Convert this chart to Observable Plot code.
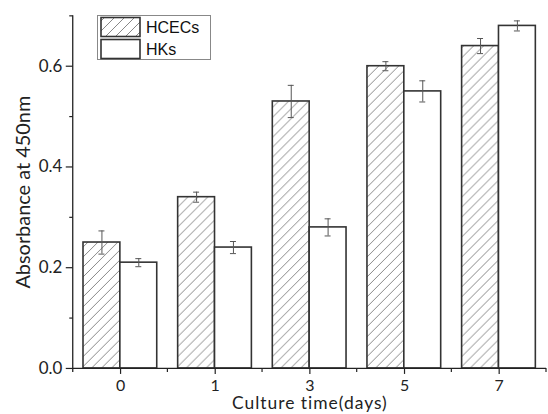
<!DOCTYPE html>
<html>
<head>
<meta charset="utf-8">
<script src="https://cdn.jsdelivr.net/npm/d3@7"></script>
<script src="https://cdn.jsdelivr.net/npm/@observablehq/plot@0.6"></script>
<style>
  html, body { margin: 0; padding: 0; background: white; overflow: hidden; }
  #wrap { position: relative; width: 548px; height: 414px; overflow: hidden; }
  #legend { position: absolute; left: 97px; top: 15px; }
</style>
</head>
<body>
<div id="wrap"><div id="chart"></div><div id="legend"></div></div>
<script>
const days = ["0", "1", "3", "5", "7"];
const seriesNames = ["HCECs", "HKs"];
const hcec = [0.25, 0.34, 0.53, 0.60, 0.64];
const hcecErr = [0.023, 0.010, 0.032, 0.009, 0.015];
const hks = [0.21, 0.24, 0.28, 0.55, 0.68];
const hksErr = [0.008, 0.012, 0.017, 0.021, 0.010];
const yMajor = [0, 0.2, 0.4, 0.6];
const yMinor = [0.1, 0.3, 0.5, 0.7];

const data = days.flatMap((d, i) => [
  {day: d, series: seriesNames[0], v: hcec[i], e: hcecErr[i]},
  {day: d, series: seriesNames[1], v: hks[i], e: hksErr[i]}
]);
const hatched = data.filter(d => d.series === seriesNames[0]);
const plain = data.filter(d => d.series === seriesNames[1]);

const axisColor = "#222";
const errColor = "#555";

const chart = Plot.plot({
  width: 550, height: 414,
  marginLeft: 71.7, marginRight: 0, marginTop: 15.4, marginBottom: 44.7,
  style: {fontFamily: "Lato, 'Open Sans', sans-serif", fontSize: "16px", color: axisColor, background: "white"},
  fx: {domain: days, padding: 0},
  x: {domain: seriesNames, paddingInner: 0, paddingOuter: 0.25, axis: null},
  y: {domain: [0, 0.7]},
  marks: [
    Plot.barY(hatched, {fx: "day", x: "series", y: "v", fill: "url(#hatch)", stroke: "#333", strokeWidth: 1.6}),
    Plot.barY(plain, {fx: "day", x: "series", y: "v", fill: "white", stroke: "#333", strokeWidth: 1.6}),
    Plot.ruleX(data, {fx: "day", x: "series", y1: d => d.v - d.e, y2: d => d.v + d.e, stroke: errColor, strokeWidth: 1}),
    Plot.tickY(data, {fx: "day", x: "series", y: d => d.v + d.e, insetLeft: 15.5, insetRight: 15.5, stroke: errColor, strokeWidth: 1}),
    Plot.tickY(data, {fx: "day", x: "series", y: d => d.v - d.e, insetLeft: 15.5, insetRight: 15.5, stroke: errColor, strokeWidth: 1}),
    Plot.ruleY([0], {stroke: axisColor, strokeWidth: 1.3}),
    Plot.axisY({ticks: yMinor, tickSize: 3.5, text: null, label: null, strokeWidth: 1.2}),
    Plot.axisY({ticks: yMajor, tickSize: 7, tickPadding: 4, tickFormat: ".1f", strokeWidth: 1.2, fontSize: 17,
      label: "Absorbance at 450nm", labelAnchor: "center", labelOffset: 58, labelArrow: "none"}),
    Plot.axisFx({anchor: "bottom", tickSize: 6, tickPadding: 5, strokeWidth: 1.2, fontSize: 16,
      label: "Culture time(days)", labelAnchor: "center", labelOffset: 40.5, labelArrow: "none"})
  ]
});

const svg = d3.select(chart);
// hatch pattern
const defs = svg.insert("defs", ":first-child");
const pat = defs.append("pattern").attr("id", "hatch").attr("patternUnits", "userSpaceOnUse")
  .attr("width", 10).attr("height", 10);
pat.append("rect").attr("width", 10).attr("height", 10).attr("fill", "white");
pat.append("path").attr("d", "M-2,2 L2,-2 M0,10 L10,0 M8,12 L12,8")
  .attr("stroke", "#7a7a7a").attr("stroke-width", 0.9);

// y axis line and minor x ticks using Plot's scales
const fx = chart.scale("fx"), y = chart.scale("y");
const y0 = y.apply(0);
const xLeft = fx.apply(days[0]);
svg.append("line").attr("x1", xLeft).attr("x2", xLeft)
  .attr("y1", y.apply(0.7)).attr("y2", y0 + 4)
  .attr("stroke", axisColor).attr("stroke-width", 1.3);
days.forEach(d => {
  const xb = fx.apply(d) + fx.bandwidth;
  svg.append("line").attr("x1", xb).attr("x2", xb).attr("y1", y0).attr("y2", y0 + 4)
    .attr("stroke", axisColor).attr("stroke-width", 1.2);
});
svg.selectAll("[aria-label='y-axis label'] text")
  .style("font-size", "20px");
svg.selectAll("[aria-label='fx-axis label'] text")
  .style("font-size", "17.5px").style("letter-spacing", "1px");

document.getElementById("chart").append(chart);

// legend
const lg = d3.select("#legend").append("svg").attr("width", 115).attr("height", 47);
const ldefs = lg.append("defs").append("pattern").attr("id", "hatchL").attr("patternUnits", "userSpaceOnUse")
  .attr("width", 10).attr("height", 10);
ldefs.append("rect").attr("width", 10).attr("height", 10).attr("fill", "white");
ldefs.append("path").attr("d", "M-2,2 L2,-2 M0,10 L10,0 M8,12 L12,8")
  .attr("stroke", "#7a7a7a").attr("stroke-width", 0.9);
lg.append("rect").attr("x", 0.5).attr("y", 0.5).attr("width", 113).attr("height", 44)
  .attr("fill", "white").attr("stroke", "#888").attr("stroke-width", 1);
seriesNames.forEach((s, i) => {
  lg.append("rect").attr("x", 4).attr("y", 2.5 + i * 22).attr("width", 39).attr("height", 19)
    .attr("fill", i === 0 ? "url(#hatchL)" : "white").attr("stroke", "#333").attr("stroke-width", 1.6);
  lg.append("text").attr("x", 49).attr("y", 18 + i * 22).text(s)
    .attr("font-family", "'Liberation Sans', Arial, sans-serif").attr("font-size", 16).attr("fill", "#111");
});
</script>
</body>
</html>
